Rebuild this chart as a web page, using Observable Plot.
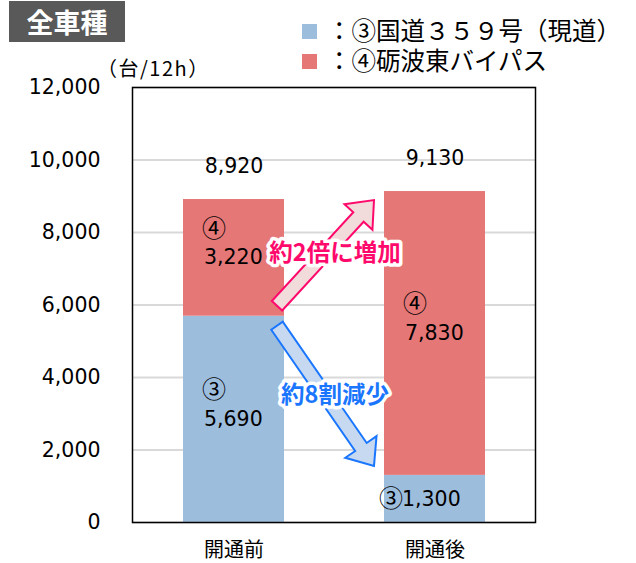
<!DOCTYPE html>
<html lang="ja"><head><meta charset="utf-8">
<script src="https://cdn.jsdelivr.net/npm/d3@7"></script>
<script src="https://cdn.jsdelivr.net/npm/@observablehq/plot@0.6"></script>
<style>
body{margin:0;background:#fff;}
#wrap{position:relative;width:636px;height:563px;font-family:"DejaVu Sans","Noto Sans CJK JP",sans-serif;color:#000;}
#title{position:absolute;left:9px;top:1px;width:116px;height:41px;background:#595959;color:#fff;font-family:"Noto Sans CJK JP",sans-serif;font-weight:bold;font-size:27px;line-height:41px;text-align:center;}
.leg{position:absolute;left:302px;height:26px;font-family:"Noto Sans CJK JP",sans-serif;font-size:24.5px;line-height:26px;white-space:nowrap;}
.leg span.sw{display:inline-block;width:15px;height:15px;vertical-align:middle;margin-right:10px;position:relative;top:-2px;}
#unit{position:absolute;left:97px;top:55px;height:26px;line-height:26px;font-family:"Noto Sans CJK JP",sans-serif;font-size:20px;letter-spacing:1.5px;white-space:nowrap;}
</style></head><body><div id="wrap"></div>
<script>
// ---- data ----
const categories = ["開通前", "開通後"];
const seriesKeys = ["③", "④"];
const seriesNames = ["国道３５９号（現道）", "砺波東バイパス"];
const route359 = [5690, 1300];
const bypass = [3220, 7830];
const totals = [8920, 9130];
const yTicks = [0, 2000, 4000, 6000, 8000, 10000, 12000];
const colors = ["#9dbddd", "#e57777"];
const chartTitle = "全車種";
const unitLabel = "（台/12h）";
const noteTexts = ["約2倍に増加", "約8割減少"];
const noteColors = ["#ff0a6c", "#1a76ff"];
const noteFills = ["#f2dcdb", "#c6d9f1"];

// ---- derived tables ----
const rows = categories.flatMap((c, i) => [
  {cat: c, key: seriesKeys[0], value: route359[i], base: 0},
  {cat: c, key: seriesKeys[1], value: bypass[i], base: route359[i]}
]);
const tall = rows.filter(r => r.value >= 2000);
const short = rows.filter(r => r.value < 2000);
// arrows: from boundary of 開通前 to corresponding level in 開通後
const notes = [
  {text: noteTexts[0], from: route359[0], to: route359[1] + bypass[1], side: -1, color: noteColors[0], fill: noteFills[0]},
  {text: noteTexts[1], from: route359[0], to: route359[1], side: 1, color: noteColors[1], fill: noteFills[1]}
];

const fmt = d3.format(",");
const cjk = '"Noto Sans CJK JP",sans-serif';

function arrowMark(index, scales) {
  const x = scales.x, y = scales.y;
  const bw = x.bandwidth ? x.bandwidth() : 100;
  const g = d3.create("svg:g");
  notes.forEach(a => {
    const T = [x(categories[0]) + bw - 7, y(a.from) + a.side * 10];
    const P = [x(categories[1]) - 10, y(a.to) - a.side * 9];
    const dx = P[0] - T[0], dy = P[1] - T[1], L = Math.hypot(dx, dy);
    const u = [dx / L, dy / L], n = [-u[1], u[0]];
    const w = 7, hw = 19, hl = 23;
    const B = [P[0] - u[0] * hl, P[1] - u[1] * hl];
    const pts = [
      [T[0] + n[0] * w, T[1] + n[1] * w],
      [B[0] + n[0] * w, B[1] + n[1] * w],
      [B[0] + n[0] * hw, B[1] + n[1] * hw],
      P,
      [B[0] - n[0] * hw, B[1] - n[1] * hw],
      [B[0] - n[0] * w, B[1] - n[1] * w],
      [T[0] - n[0] * w, T[1] - n[1] * w]
    ];
    g.append("path").attr("d", "M" + pts.map(p => p.join(",")).join("L") + "Z")
      .attr("fill", a.fill).attr("stroke", a.color).attr("stroke-width", 2).attr("stroke-linejoin", "miter");
  });
  return g.node();
}

const plot = Plot.plot({
  width: 636, height: 563,
  marginTop: 87, marginBottom: 41, marginLeft: 132, marginRight: 101,
  x: {domain: categories, paddingInner: 0.5, paddingOuter: 0.25, axis: null},
  y: {domain: [0, 12000], axis: null},
  color: {domain: seriesKeys, range: colors},
  style: {fontFamily: '"DejaVu Sans","Noto Sans CJK JP",sans-serif', fontSize: "20px", color: "#000", background: "#fff", overflow: "visible"},
  marks: [
    Plot.ruleY(yTicks, {stroke: "#d9d9d9", strokeWidth: 2}),
    Plot.barY(rows, {x: "cat", y: "value", fill: "key", inset: 0}),
    Plot.frame({stroke: "#000", strokeWidth: 1.5}),
    Plot.axisY({ticks: yTicks, tickSize: 0, tickPadding: 32, tickFormat: fmt, fontSize: 20.5, label: null}),
    Plot.axisX({tickSize: 0, tickPadding: 20, fontSize: 20, label: null, fontFamily: cjk}),
    // totals
    Plot.text(categories, {x: d => d, y: (d, i) => route359[i] + bypass[i], text: (d, i) => fmt(totals[i]), dy: -33, fontSize: 20.5}),
    // segment labels: circled number above value when the segment is tall
    Plot.text(tall, {x: "cat", y: r => r.base + r.value / 2, text: "key", dx: -32, dy: -29, textAnchor: "start", fontSize: 24, fontFamily: cjk}),
    Plot.text(tall, {x: "cat", y: r => r.base + r.value / 2, text: r => fmt(r.value), dx: -30, textAnchor: "start", fontSize: 20.5}),
    // short segment: circled number and value on one line
    Plot.text(short, {x: "cat", y: r => r.base + r.value / 2, text: "key", dx: -32, textAnchor: "end", fontSize: 24, fontFamily: cjk}),
    Plot.text(short, {x: "cat", y: r => r.base + r.value / 2, text: r => fmt(r.value), dx: -33, textAnchor: "start", fontSize: 20.5}),
    arrowMark,
    Plot.text(notes, {frameAnchor: "middle", y: d => (d.from + d.to) / 2, text: "text", fill: "color", stroke: "white", strokeWidth: 7, fontWeight: "bold", fontSize: 23.5, fontFamily: cjk, dx: 1})
  ]
});

const wrap = document.getElementById("wrap");
plot.style.position = "absolute"; plot.style.left = "0"; plot.style.top = "0";
wrap.appendChild(plot);
const t = document.createElement("div"); t.id = "title"; t.textContent = chartTitle; wrap.appendChild(t);
seriesKeys.forEach((k, i) => {
  const d = document.createElement("div"); d.className = "leg"; d.style.top = (17 + i * 30) + "px";
  const sw = document.createElement("span"); sw.className = "sw"; sw.style.background = colors[i];
  d.appendChild(sw);
  d.appendChild(document.createTextNode("：" + k + seriesNames[i]));
  wrap.appendChild(d);
});
const u = document.createElement("div"); u.id = "unit"; u.textContent = unitLabel; wrap.appendChild(u);
</script></body></html>
